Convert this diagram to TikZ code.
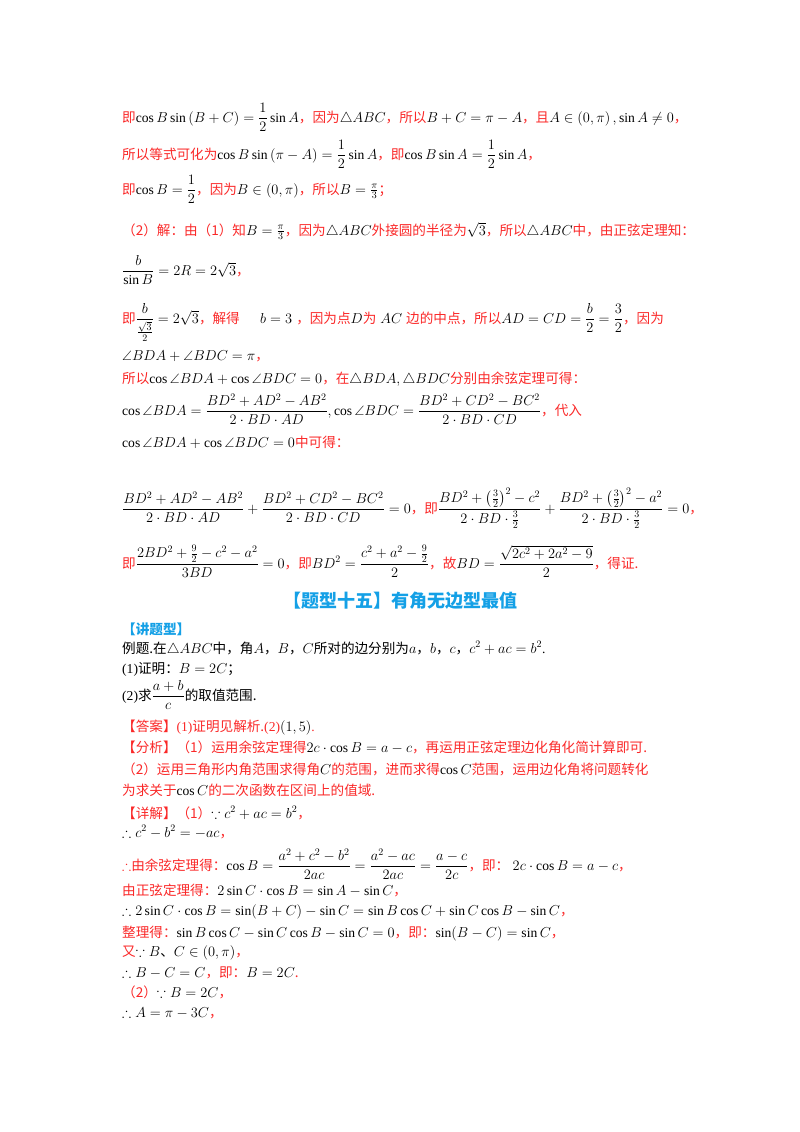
\documentclass[tikz,border=0pt]{standalone}
\usepackage{amsmath,amssymb}
\usepackage{fontspec}
\setmainfont{Liberation Serif}
\newfontfamily\cjk{Noto Sans CJK SC}
\definecolor{rd}{RGB}{250,40,40}
\definecolor{hb}{RGB}{20,160,230}
\newcommand{\R}[1]{{\cjk\color{rd}#1}}
\newcommand{\K}[1]{{\cjk #1}}
\tikzset{ln/.style={anchor=base west,inner sep=0pt,font=\fontsize{13.6}{16}\selectfont}}
\begin{document}
\begin{tikzpicture}[x=1pt,y=-1pt]
\useasboundingbox (0,0) rectangle (800,1132);
\node[ln] (l1) at (122,122) {\R{即}$\cos B\sin\left(B+C\right)=\dfrac12\sin A$\R{，因为}$\triangle ABC$\R{，所以}$B+C=\pi-A$\R{，且}$A\in\left(0,\pi\right),\sin A\neq0$\R{，}};
\node[ln] (l2) at (122,159) {\R{所以等式可化为}$\cos B\sin\left(\pi-A\right)=\dfrac12\sin A$\R{，即}$\cos B\sin A=\dfrac12\sin A$\R{，}};
\node[ln] (l3) at (122,194) {\R{即}$\cos B=\dfrac12$\R{，因为}$B\in\left(0,\pi\right)$\R{，所以}$B=\frac{\pi}{3}$\R{；}};
\node[ln] (l4) at (122,235) {\R{（2）解：由（1）知}$B=\frac{\pi}{3}$\R{，因为}$\triangle ABC$\R{外接圆的半径为}$\sqrt3$\R{，所以}$\triangle ABC$\R{中，由正弦定理知：}};
\node[ln] (l5) at (122,275) {$\dfrac{b}{\sin B}=2R=2\sqrt3$\R{，}};
\node[ln] (l6) at (122,323) {\R{即}$\dfrac{b}{\frac{\sqrt3}{2}}=2\sqrt3$\R{，解得}\hspace{1.5em}$b=3$\hspace{0.3em}\R{，因为点}$D$\R{为}\hspace{0.3em}$AC$\hspace{0.3em}\R{边的中点，所以}$AD=CD=\dfrac b2=\dfrac32$\R{，因为}};
\node[ln] (l7) at (122,360) {$\angle BDA+\angle BDC=\pi$\R{，}};
\node[ln] (l8) at (122,383) {\R{所以}$\cos\angle BDA+\cos\angle BDC=0$\R{，在}$\triangle BDA,\triangle BDC$\R{分别由余弦定理可得：}};
\node[ln] (l9) at (122,415) {$\cos\angle BDA=\dfrac{BD^2+AD^2-AB^2}{2\cdot BD\cdot AD},\cos\angle BDC=\dfrac{BD^2+CD^2-BC^2}{2\cdot BD\cdot CD}$\R{，代入}};
\node[ln] (l10) at (122,447) {$\cos\angle BDA+\cos\angle BDC=0$\R{中可得：}};
\node[ln] (l11) at (122,513) {$\dfrac{BD^2+AD^2-AB^2}{2\cdot BD\cdot AD}+\dfrac{BD^2+CD^2-BC^2}{2\cdot BD\cdot CD}=0$\R{，即}$\dfrac{BD^2+\left(\frac32\right)^2-c^2}{2\cdot BD\cdot\frac32}+\dfrac{BD^2+\left(\frac32\right)^2-a^2}{2\cdot BD\cdot\frac32}=0$\R{，}};
\node[ln] (l12) at (122,568) {\R{即}$\dfrac{2BD^2+\frac92-c^2-a^2}{3BD}=0$\R{，即}$BD^2=\dfrac{c^2+a^2-\frac92}{2}$\R{，故}$BD=\dfrac{\sqrt{2c^2+2a^2-9}}{2}$\R{，得证.}};
\node[anchor=base,inner sep=0pt,font=\fontsize{18}{20}\selectfont\cjk\bfseries,text=hb] (h) at (400,607) {【题型十五】有角无边型最值};
\node[ln] (a1) at (122,634) {{\cjk\bfseries\color{hb}【讲题型】}};
\node[ln] (a2) at (122,653) {\K{例题.在}$\triangle ABC$\K{中，角}$A$\K{，}$B$\K{，}$C$\K{所对的边分别为}$a$\K{，}$b$\K{，}$c$\K{，}$c^2+ac=b^2$.};
\node[ln] (a3) at (122,673) {(1)\K{证明：}$B=2C$\K{；}};
\node[ln] (a4) at (122,700) {(2)\K{求}$\dfrac{a+b}{c}$\K{的取值范围.}};
\node[ln] (a5) at (122,731) {\R{【答案】}{\color{rd}(1)}\R{证明见解析.}{\color{rd}(2)}$(1,5)${\color{rd}.}};
\node[ln] (a6) at (122,752) {\R{【分析】（1）运用余弦定理得}$2c\cdot\cos B=a-c$\R{，再运用正弦定理边化角化简计算即可.}};
\node[ln] (a7) at (122,774) {\R{（2）运用三角形内角范围求得角}$C$\R{的范围，进而求得}$\cos C$\R{范围，运用边化角将问题转化}};
\node[ln] (a8) at (122,795) {\R{为求关于}$\cos C$\R{的二次函数在区间上的值域.}};
\node[ln] (a9) at (122,818) {\R{【详解】（1）}$\because c^2+ac=b^2$\R{，}};
\node[ln] (a10) at (122,837) {$\therefore c^2-b^2=-ac$\R{，}};
\node[ln] (a11) at (122,870) {\R{$\therefore$由余弦定理得：}$\cos B=\dfrac{a^2+c^2-b^2}{2ac}=\dfrac{a^2-ac}{2ac}=\dfrac{a-c}{2c}$\R{，即：}\ $2c\cdot\cos B=a-c$\R{，}};
\node[ln] (a12) at (122,895) {\R{由正弦定理得：}$2\sin C\cdot\cos B=\sin A-\sin C$\R{，}};
\node[ln] (a13) at (122,915) {$\therefore 2\sin C\cdot\cos B=\sin(B+C)-\sin C=\sin B\cos C+\sin C\cos B-\sin C$\R{，}};
\node[ln] (a14) at (122,937) {\R{整理得：}$\sin B\cos C-\sin C\cos B-\sin C=0$\R{，即：}$\sin(B-C)=\sin C$\R{，}};
\node[ln] (a15) at (122,956) {\R{又}$\because B$\K{、}$C\in(0,\pi)$\R{，}};
\node[ln] (a16) at (122,977) {$\therefore B-C=C$\R{，即：}$B=2C$\R{.}};
\node[ln] (a17) at (122,997) {\R{（2）}$\because B=2C$\R{，}};
\node[ln] (a18) at (122,1017) {$\therefore A=\pi-3C$\R{，}};
\end{tikzpicture}
\end{document}
